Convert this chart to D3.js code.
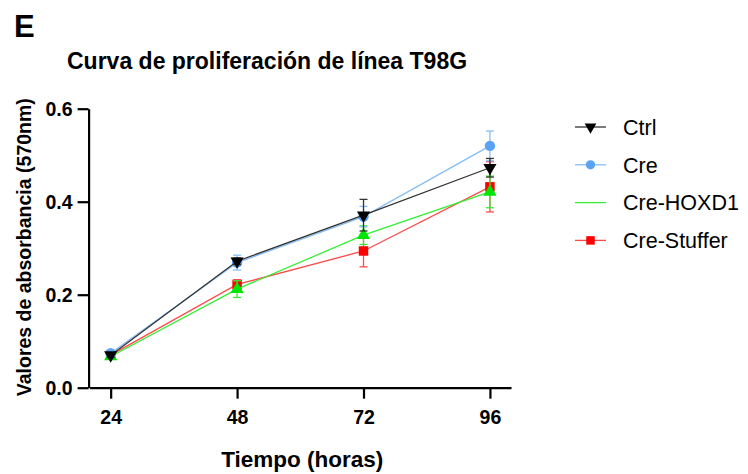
<!DOCTYPE html>
<html>
<head>
<meta charset="utf-8">
<script src="https://cdn.jsdelivr.net/npm/d3@7"></script>
<style>
  body { margin: 0; background: #fff; }
  svg { font-family: "Liberation Sans", Arial, sans-serif; }
</style>
</head>
<body>
<svg id="chart" width="748" height="474"></svg>
<script>
// data
const hours = [24, 48, 72, 96];
const seriesNames = ["Ctrl", "Cre", "Cre-HOXD1", "Cre-Stuffer"];
const ctrlMean = [0.070, 0.272, 0.371, 0.473];
const ctrlErr = [0.005, 0.007, 0.034, 0.020];
const creMean = [0.074, 0.269, 0.368, 0.520];
const creErr = [0.006, 0.016, 0.022, 0.032];
const hoxMean = [0.067, 0.212, 0.328, 0.421];
const hoxErr = [0.004, 0.018, 0.020, 0.034];
const stufMean = [0.070, 0.222, 0.294, 0.432];
const stufErr = [0.005, 0.010, 0.034, 0.054];
const yTicks = [0.0, 0.2, 0.4, 0.6];

// drawn bottom to top
const series = [
  { name: "Cre-Stuffer", mean: stufMean, err: stufErr, line: "#ff4a4a", fill: "#ff0000", sym: d3.symbolSquare, size: 90, legendMarker: true },
  { name: "Cre-HOXD1", mean: hoxMean, err: hoxErr, line: "#33ee33", fill: "#00e600", sym: d3.symbolTriangle, size: 75, legendMarker: false },
  { name: "Cre", mean: creMean, err: creErr, line: "#86bdf7", fill: "#5aa2f5", sym: d3.symbolCircle, size: 85, legendMarker: true },
  { name: "Ctrl", mean: ctrlMean, err: ctrlErr, line: "#333333", fill: "#000000", sym: d3.symbolTriangle, size: 75, flip: true, legendMarker: true }
];

const svg = d3.select("#chart");

const x = d3.scaleLinear().domain([20, 100]).range([89.6, 511]);
const y = d3.scaleLinear().domain([0, 0.6]).range([387.7, 108.7]);

// axes
const xAxis = svg.append("g")
  .attr("transform", `translate(0,${y(0)})`)
  .call(d3.axisBottom(x).tickValues(hours).tickSize(11).tickPadding(11).tickSizeOuter(0));
const yAxis = svg.append("g")
  .attr("transform", `translate(${x(20) - 1},0)`)
  .call(d3.axisLeft(y).tickValues(yTicks).tickFormat(d3.format(".1f")).tickSize(11).tickPadding(5).tickSizeOuter(0));

[xAxis, yAxis].forEach(a => {
  a.select(".domain").attr("stroke", "#000").attr("stroke-width", 2.2);
  a.selectAll(".tick line").attr("stroke", "#000").attr("stroke-width", 2.2);
  a.selectAll(".tick text")
    .attr("fill", "#000")
    .style("font-size", "19.5px")
    .style("font-weight", "bold");
});
yAxis.selectAll(".tick text").attr("dy", "0.36em");

// titles
svg.append("text")
  .attr("x", 14).attr("y", 37)
  .style("font-size", "31px")
  .style("font-weight", "bold")
  .text("E");

svg.append("text")
  .attr("x", 67).attr("y", 69)
  .style("font-size", "23px")
  .style("font-weight", "bold")
  .text("Curva de proliferación de línea T98G");

svg.append("text")
  .attr("x", x(60) + 2).attr("y", 467)
  .attr("text-anchor", "middle")
  .style("font-size", "22.5px")
  .style("font-weight", "bold")
  .text("Tiempo (horas)");

svg.append("text")
  .attr("transform", `translate(31,${y(0.3) - 1}) rotate(-90)`)
  .attr("text-anchor", "middle")
  .style("font-size", "19.5px")
  .style("font-weight", "bold")
  .text("Valores de absorbancia (570nm)");

// lines, error bars, markers
const line = d3.line().x((d, i) => x(hours[i])).y(d => y(d));

series.forEach(s => {
  const g = svg.append("g");
  g.append("path")
    .attr("d", line(s.mean))
    .attr("fill", "none")
    .attr("stroke", s.line)
    .attr("stroke-width", 1.3);

  const eb = g.selectAll(".eb").data(s.mean).join("g");
  eb.append("line")
    .attr("x1", (d, i) => x(hours[i])).attr("x2", (d, i) => x(hours[i]))
    .attr("y1", (d, i) => y(d - s.err[i])).attr("y2", (d, i) => y(d + s.err[i]))
    .attr("stroke", s.line).attr("stroke-width", 1.3);
  [-1, 1].forEach(sign => {
    eb.append("line")
      .attr("x1", (d, i) => x(hours[i]) - 4).attr("x2", (d, i) => x(hours[i]) + 4)
      .attr("y1", (d, i) => y(d + sign * s.err[i])).attr("y2", (d, i) => y(d + sign * s.err[i]))
      .attr("stroke", s.line).attr("stroke-width", 1.3);
  });

  g.selectAll(".pt").data(s.mean).join("path")
    .attr("d", d3.symbol().type(s.sym).size(s.size))
    .attr("transform", (d, i) => `translate(${x(hours[i])},${y(d)})${s.flip ? " rotate(180)" : ""}`)
    .attr("fill", s.fill);
});

// legend
const legend = svg.append("g");
seriesNames.forEach((name, i) => {
  const s = series.find(d => d.name === name);
  const ly = 127 + i * 37.8;
  legend.append("line")
    .attr("x1", 575).attr("x2", 606)
    .attr("y1", ly).attr("y2", ly)
    .attr("stroke", s.line).attr("stroke-width", 1.3);
  if (s.legendMarker) {
    legend.append("path")
      .attr("d", d3.symbol().type(s.sym).size(s.size * 0.8))
      .attr("transform", `translate(590.5,${ly})${s.flip ? " rotate(180)" : ""}`)
      .attr("fill", s.fill);
  }
  legend.append("text")
    .attr("x", 623).attr("y", ly)
    .attr("dy", "0.36em")
    .style("font-size", "21.5px")
    .text(name);
});
</script>
</body>
</html>
